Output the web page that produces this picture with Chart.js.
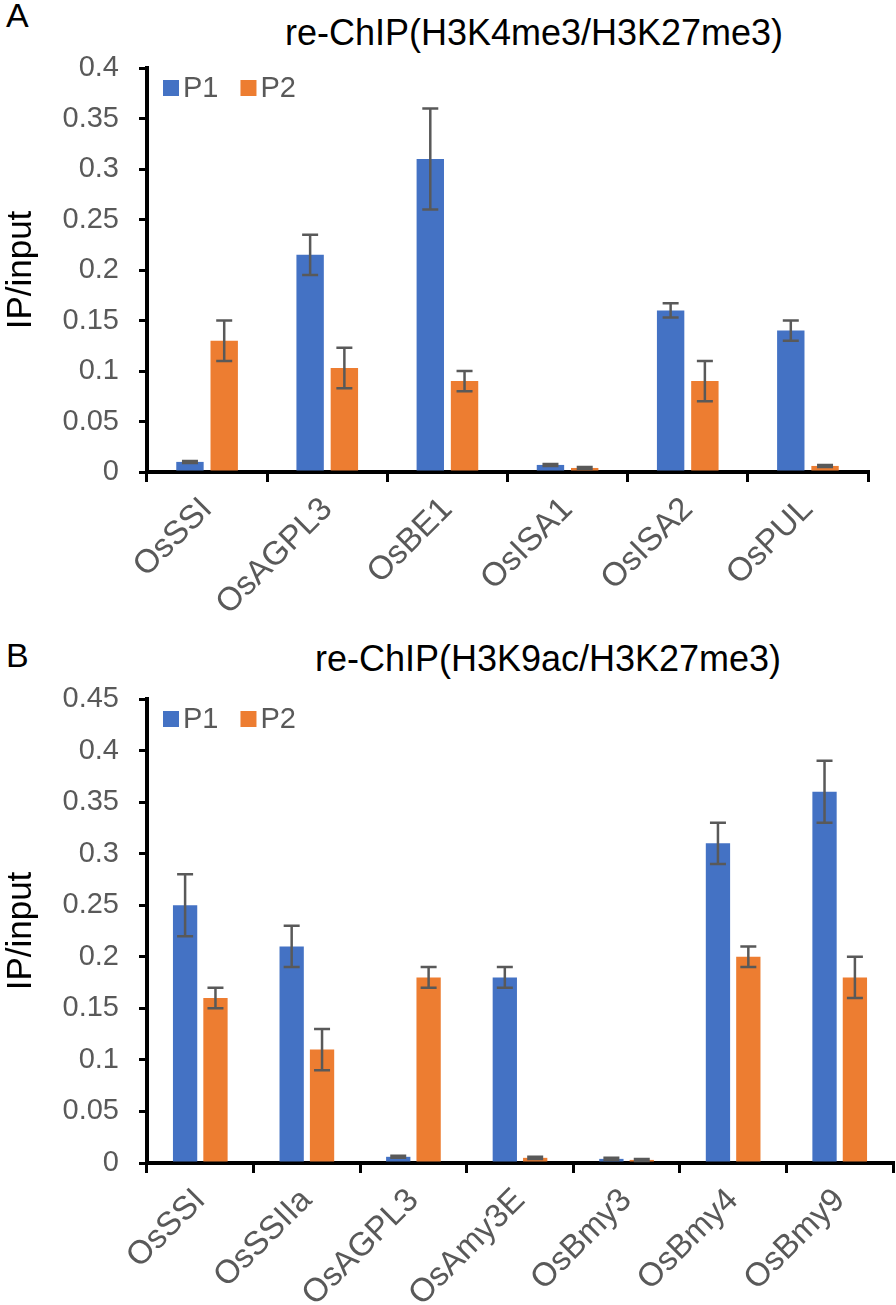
<!DOCTYPE html>
<html>
<head>
<meta charset="utf-8">
<script src="https://cdn.jsdelivr.net/npm/chart.js@4.4.1/dist/chart.umd.min.js"></script>
<style>
  body { margin: 0; background: #fff; font-family: "Liberation Sans", Arial, sans-serif; }
  #wrap { position: relative; width: 896px; height: 1305px; overflow: hidden; }
  canvas { position: absolute; left: 0; }
  .lbl { position: absolute; color: #000; white-space: nowrap; }
</style>
</head>
<body>
<div id="wrap">
  <div class="lbl" style="left:6px; top:-4px; font-size:34px;">A</div>
  <div class="lbl" style="left:534px; top:12px; font-size:36px; transform:translateX(-50%);">re-ChIP(H3K4me3/H3K27me3)</div>
  <canvas id="chartA" width="896" height="630" style="top:0"></canvas>
  <div class="lbl" style="left:6px; top:636px; font-size:34px;">B</div>
  <div class="lbl" style="left:548px; top:638px; font-size:36px; transform:translateX(-50%);">re-ChIP(H3K9ac/H3K27me3)</div>
  <canvas id="chartB" width="896" height="675" style="top:630px"></canvas>
</div>
<script>
// panel A data
const catsA = ['OsSSI', 'OsAGPL3', 'OsBE1', 'OsISA1', 'OsISA2', 'OsPUL'];
const p1A = [0.01, 0.215, 0.31, 0.007, 0.16, 0.14];
const p1AErr = [0.001, 0.02, 0.05, 0.001, 0.007, 0.01];
const p2A = [0.13, 0.103, 0.09, 0.004, 0.09, 0.006];
const p2AErr = [0.02, 0.02, 0.01, 0.001, 0.02, 0.001];
const yMaxA = 0.4;

// panel B data
const catsB = ['OsSSI', 'OsSSIIa', 'OsAGPL3', 'OsAmy3E', 'OsBmy3', 'OsBmy4', 'OsBmy9'];
const p1B = [0.25, 0.21, 0.006, 0.18, 0.004, 0.31, 0.36];
const p1BErr = [0.03, 0.02, 0.001, 0.01, 0.001, 0.02, 0.03];
const p2B = [0.16, 0.11, 0.18, 0.005, 0.003, 0.2, 0.18];
const p2BErr = [0.01, 0.02, 0.01, 0.001, 0.001, 0.01, 0.02];
const yMaxB = 0.45;

const yStep = 0.05;
const seriesNames = ['P1', 'P2'];
const blue = '#4472C4';
const orange = '#ED7D31';
const grey = '#595959';
const font = '"Liberation Sans", Arial, sans-serif';

// draws the +/- error whiskers on top of every bar
const errorBars = {
    id: 'errorBars',
    afterDatasetsDraw(chart) {
        const ctx = chart.ctx;
        const y = chart.scales.y;
        ctx.save();
        ctx.strokeStyle = grey;
        ctx.lineWidth = 2.5;
        chart.data.datasets.forEach((ds, i) => {
            const meta = chart.getDatasetMeta(i);
            meta.data.forEach((bar, j) => {
                const v = ds.data[j];
                const e = ds.errors[j];
                const top = y.getPixelForValue(v + e);
                const bottom = y.getPixelForValue(v - e);
                const cap = 8;
                ctx.beginPath();
                ctx.moveTo(bar.x, top);
                ctx.lineTo(bar.x, bottom);
                ctx.moveTo(bar.x - cap, top);
                ctx.lineTo(bar.x + cap, top);
                ctx.moveTo(bar.x - cap, bottom);
                ctx.lineTo(bar.x + cap, bottom);
                ctx.stroke();
            });
        });
        ctx.restore();
    }
};

// small legend in the top-left corner of the plot area, one row
const innerLegend = {
    id: 'innerLegend',
    afterDraw(chart) {
        const ctx = chart.ctx;
        const area = chart.chartArea;
        let x = area.left + 16;
        const cy = area.top + 20;
        ctx.save();
        ctx.font = '29px ' + font;
        ctx.textBaseline = 'middle';
        chart.data.datasets.forEach(ds => {
            ctx.fillStyle = ds.backgroundColor;
            ctx.fillRect(x, cy - 8, 16, 16);
            x += 20;
            ctx.fillStyle = grey;
            ctx.fillText(ds.label, x, cy + 1);
            x += ctx.measureText(ds.label).width + 22;
        });
        ctx.restore();
    }
};

function makeChart(id, cats, d1, e1, d2, e2, yMax, pad, axisH) {
    new Chart(document.getElementById(id), {
        type: 'bar',
        data: {
            labels: cats,
            datasets: [
                { label: seriesNames[0], data: d1, errors: e1, backgroundColor: blue,
                  categoryPercentage: 0.57, barPercentage: 0.8 },
                { label: seriesNames[1], data: d2, errors: e2, backgroundColor: orange,
                  categoryPercentage: 0.57, barPercentage: 0.8 }
            ]
        },
        options: {
            responsive: false,
            animation: false,
            layout: { padding: pad },
            plugins: {
                legend: { display: false },
                tooltip: { enabled: false }
            },
            scales: {
                x: {
                    grid: { display: true, drawOnChartArea: false, color: '#000', lineWidth: 3, tickLength: 10 },
                    border: { display: true, color: '#000', width: 4 },
                    ticks: {
                        color: grey,
                        minRotation: 45,
                        maxRotation: 45,
                        padding: 8,
                        font: { family: font, size: 33 }
                    },
                    afterFit: s => { s.height = axisH; }
                },
                y: {
                    min: 0,
                    max: yMax,
                    grid: { display: true, drawOnChartArea: false, color: '#000', lineWidth: 3, tickLength: 8 },
                    border: { display: true, color: '#000', width: 4 },
                    ticks: {
                        stepSize: yStep,
                        color: grey,
                        padding: 20,
                        font: { family: font, size: 29 },
                        callback: v => String(+v.toFixed(2))
                    },
                    title: {
                        display: true,
                        text: 'IP/input',
                        color: '#000',
                        padding: 0,
                        font: { family: font, size: 35 }
                    },
                    afterFit: s => { s.width = 147; }
                }
            }
        },
        plugins: [errorBars, innerLegend]
    });
}

makeChart('chartA', catsA, p1A, p1AErr, p2A, p2AErr, yMaxA, { top: 68, right: 28, left: 0, bottom: 0 }, 158);
makeChart('chartB', catsB, p1B, p1BErr, p2B, p2BErr, yMaxB, { top: 69, right: 3, left: 0, bottom: 0 }, 142);
</script>
</body>
</html>
